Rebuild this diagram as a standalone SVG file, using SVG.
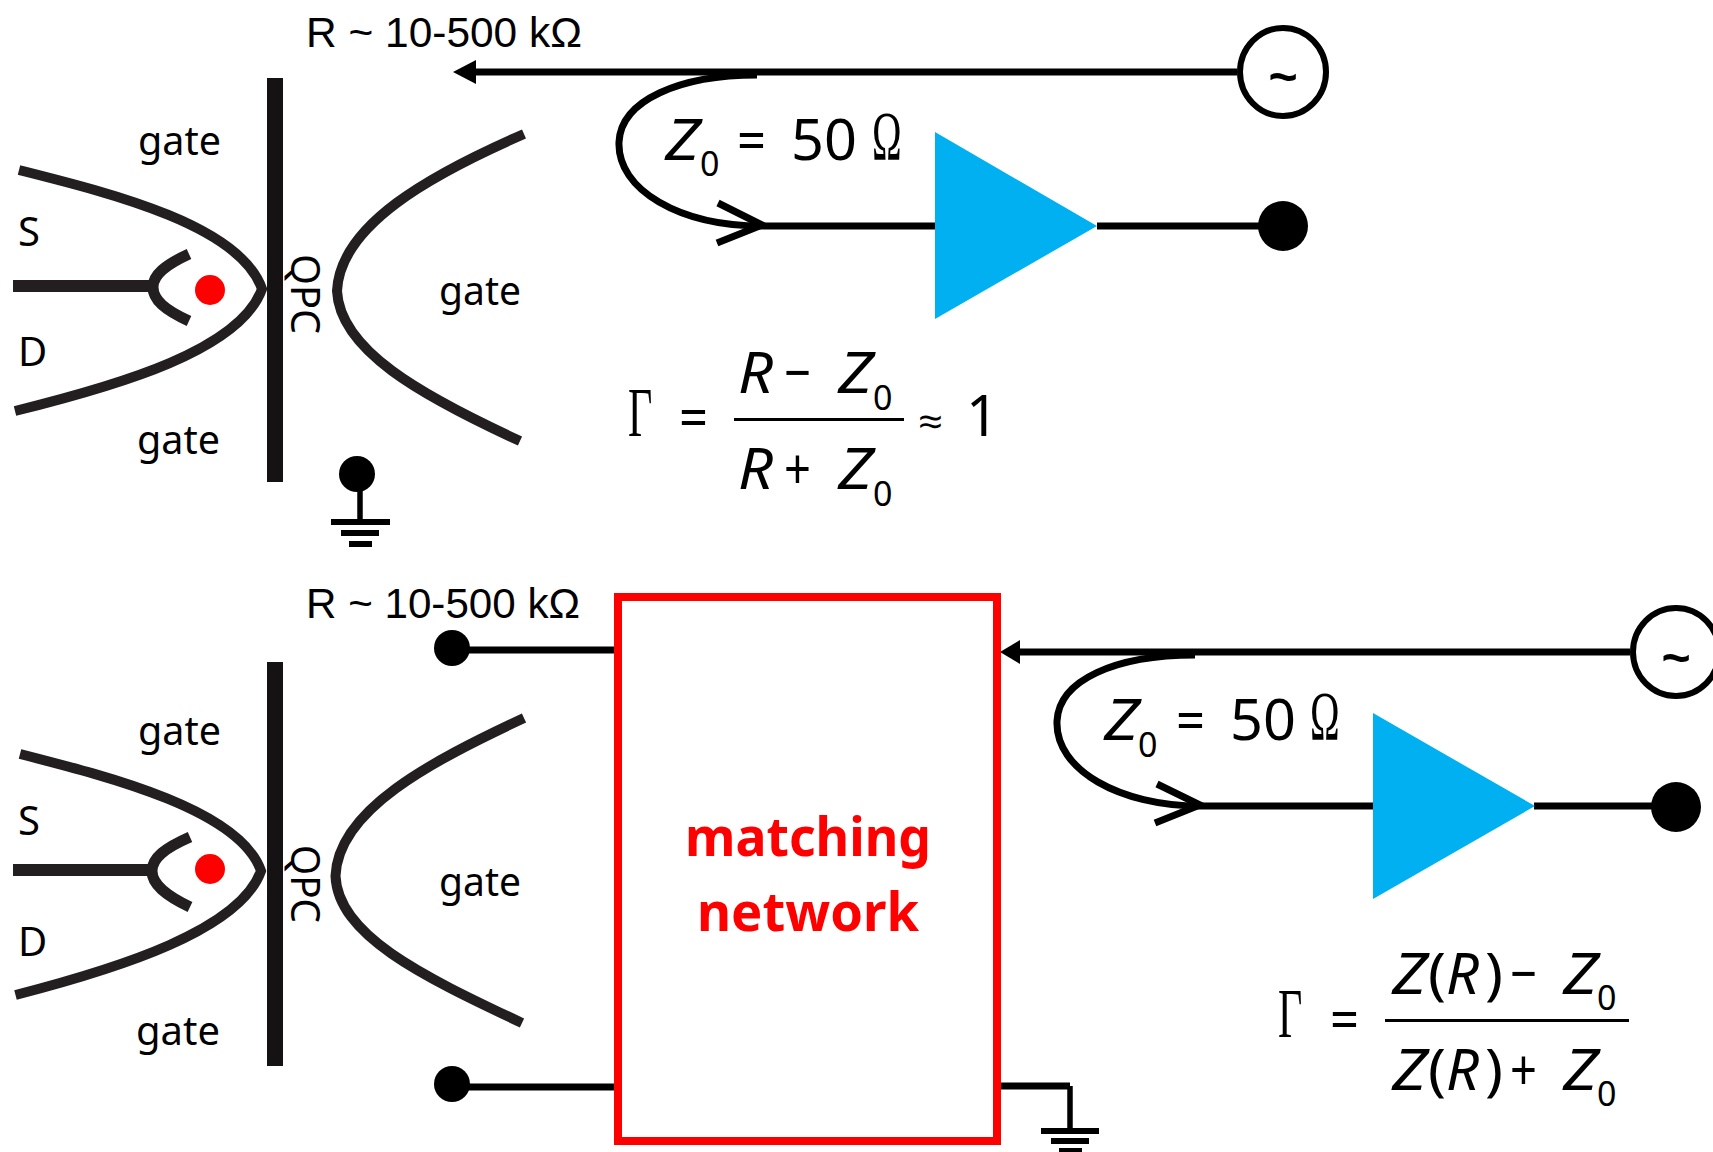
<svg xmlns="http://www.w3.org/2000/svg" width="1713" height="1152" viewBox="0 0 1713 1152">
<style>
.gatecurve{fill:none;stroke:#231f20;stroke-width:10}
.fork{fill:none;stroke:#231f20;stroke-width:11}
.lead{fill:none;stroke:#231f20;stroke-width:12}
.bar{fill:#141213}
.wire{fill:none;stroke:#000;stroke-width:7}
.thin{fill:none;stroke:#000;stroke-width:5.5}
.src{fill:#fff;stroke:#000;stroke-width:6}
.amp{fill:#00b0f0}
.t{font-family:"Noto Sans","Open Sans",sans-serif;fill:#000}
.lbl{font-size:40px}
.arial{font-family:"Liberation Sans",Arial,sans-serif;font-size:42px;fill:#000}
.m{font-family:"Noto Sans","Open Sans",sans-serif;font-size:57px;fill:#000}
.i{font-style:italic}
.sub{font-size:34px}
.s{font-family:"Liberation Serif","Times New Roman",serif;font-size:70px;fill:#000}
.tilde{font-family:"Liberation Sans",Arial,sans-serif;font-size:50px;font-weight:bold;fill:#000;text-anchor:middle}
.red{font-family:"Noto Sans","Open Sans",sans-serif;font-size:54px;font-weight:bold;fill:#f00;text-anchor:middle}
</style>
<defs>
<marker id="arrow" markerUnits="userSpaceOnUse" markerWidth="23" markerHeight="24" refX="0" refY="12" orient="auto"><polygon points="0,0 23,12 0,24" fill="#000"/></marker>
<marker id="arrow2" markerUnits="userSpaceOnUse" markerWidth="20" markerHeight="24" refX="0" refY="12" orient="auto"><polygon points="0,0 20,12 0,24" fill="#000"/></marker>
</defs>
<rect width="1713" height="1152" fill="#fff"/>

<g id="connectors">
<path class="wire" d="M1237,72 H476" marker-end="url(#arrow)"/>
<path class="wire" d="M757,75 C680,75 621,100 619,142 C617,190 680,226 762,226 H935"/>
<path class="wire" d="M718,203 L762,225 L717,243" transform="translate(0,0)"/>
<path class="wire" d="M1097,226 H1283"/>
<path class="wire" d="M1630,652 H1020" marker-end="url(#arrow2)"/>
<path class="wire" d="M1195,655 C1115,655 1059,680 1057,721 C1055,770 1120,806 1200,806 H1373"/>
<path class="wire" d="M1157,784 L1200,805 L1155,823"/>
<path class="wire" d="M1534,806 H1676"/>
<path class="wire" d="M452,650 H618"/>
<path class="wire" d="M452,1087 H618"/>
<path class="wire" d="M997,1086 H1070"/>
</g>

<g id="device-top">
<path class="gatecurve" d="M19,170 C110,193 240,225 262,289 C240,350 120,385 15,411"/>
<path class="gatecurve" d="M524,134 C430,175 340,225 337,291 C340,350 420,395 520,441"/>
<rect class="bar" x="267" y="78" width="16" height="404"/>
<path class="lead" d="M13,286 H153"/>
<path class="fork" d="M189,254 C165,265 153,275 153,287 C153,300 165,310 189,321"/>
<ellipse cx="210" cy="290" rx="15" ry="15" fill="#f00"/>
<text class="t lbl" x="138" y="155" textLength="83" lengthAdjust="spacingAndGlyphs">gate</text>
<text class="t lbl" x="137" y="454" textLength="83" lengthAdjust="spacingAndGlyphs">gate</text>
<text class="t lbl" x="439" y="305" textLength="82" lengthAdjust="spacingAndGlyphs">gate</text>
<text class="t lbl" x="18" y="246">S</text>
<text class="t lbl" x="18" y="366">D</text>
<text class="t lbl" transform="translate(291,254) rotate(90)" textLength="80" lengthAdjust="spacingAndGlyphs">QPC</text>
<text class="arial" x="306" y="47" textLength="276" lengthAdjust="spacingAndGlyphs">R ~ 10-500 kΩ</text>
</g>

<g id="ground-top">
<circle cx="357" cy="474" r="18" fill="#000"/>
<path class="thin" d="M360,490 V521"/>
<rect x="331" y="519" width="59" height="6"/>
<rect x="341" y="530" width="38" height="6"/>
<rect x="349" y="541" width="23" height="6"/>
</g>

<g id="source-top">
<ellipse class="src" cx="1283" cy="72" rx="43" ry="44"/>
<text class="tilde" x="1283" y="94">~</text>
</g>
<g id="amp-top">
<polygon class="amp" points="935,132 935,319 1097,226"/>
</g>
<circle id="output-top" cx="1283" cy="226" r="25" fill="#000"/>

<g id="z0-top">
<text class="m i" x="665" y="160" textLength="35" lengthAdjust="spacingAndGlyphs">Z</text>
<text class="m sub" x="700" y="176">0</text>
<text class="m" x="737" y="160" textLength="29" lengthAdjust="spacingAndGlyphs">=</text>
<text class="m" x="791" y="160" textLength="66" lengthAdjust="spacingAndGlyphs">50</text>
<text class="s" transform="translate(872,160) scale(0.57,1)">Ω</text>
</g>

<g id="gamma-top">
<text class="s" transform="translate(628,436) scale(0.6,1)">Γ</text>
<text class="m" x="679" y="437" textLength="29" lengthAdjust="spacingAndGlyphs">=</text>
<rect x="734" y="418" width="170" height="3"/>
<text class="m i" x="738" y="393" textLength="35" lengthAdjust="spacingAndGlyphs">R</text>
<text class="m" x="784" y="393" textLength="27" lengthAdjust="spacingAndGlyphs">−</text>
<text class="m i" x="838" y="393" textLength="35" lengthAdjust="spacingAndGlyphs">Z</text>
<text class="m sub" x="873" y="410">0</text>
<text class="m i" x="738" y="489" textLength="35" lengthAdjust="spacingAndGlyphs">R</text>
<text class="m" x="784" y="489" textLength="27" lengthAdjust="spacingAndGlyphs">+</text>
<text class="m i" x="838" y="489" textLength="35" lengthAdjust="spacingAndGlyphs">Z</text>
<text class="m sub" x="873" y="506">0</text>
<text class="m" x="918" y="436" font-size="40" style="font-size:40px" textLength="25" lengthAdjust="spacingAndGlyphs">≈</text>
<text class="m" x="966" y="436">1</text>
</g>

<g id="device-bottom">
<path class="gatecurve" d="M20,754 C110,777 240,810 261,871 C240,930 120,968 15.5,995"/>
<path class="gatecurve" d="M524,718 C430,762 338,810 335.5,876 C338,935 420,975 522,1023"/>
<rect class="bar" x="267" y="662" width="16" height="404"/>
<path class="lead" d="M13,870 H151"/>
<path class="fork" d="M190,837 C165,848 152,858 152,871 C152,884 165,895 190,907"/>
<ellipse cx="210" cy="869" rx="15" ry="15" fill="#f00"/>
<text class="t lbl" x="138" y="745" textLength="83" lengthAdjust="spacingAndGlyphs">gate</text>
<text class="t lbl" x="136" y="1045" textLength="84" lengthAdjust="spacingAndGlyphs">gate</text>
<text class="t lbl" x="439" y="896" textLength="82" lengthAdjust="spacingAndGlyphs">gate</text>
<text class="t lbl" x="18" y="835">S</text>
<text class="t lbl" x="18" y="956">D</text>
<text class="t lbl" transform="translate(291,845) rotate(90)" textLength="78" lengthAdjust="spacingAndGlyphs">QPC</text>
<text class="arial" x="306" y="618" textLength="274" lengthAdjust="spacingAndGlyphs">R ~ 10-500 kΩ</text>
</g>

<circle id="terminal-a" cx="452" cy="648" r="18" fill="#000"/>
<circle id="terminal-b" cx="452" cy="1084" r="18" fill="#000"/>

<g id="matching-network">
<rect x="618" y="597" width="379" height="544" fill="none" stroke="#f00" stroke-width="8"/>
<text class="red" x="808" y="856" textLength="246" lengthAdjust="spacingAndGlyphs">matching</text>
<text class="red" x="808" y="931" textLength="222" lengthAdjust="spacingAndGlyphs">network</text>
</g>

<g id="ground-bottom">
<path class="thin" d="M1070,1086 V1129"/>
<rect x="1041" y="1128" width="58" height="6"/>
<rect x="1051" y="1138" width="38" height="6"/>
<rect x="1059" y="1148" width="23" height="4"/>
</g>

<g id="source-bottom">
<ellipse class="src" cx="1676" cy="652" rx="43" ry="44"/>
<text class="tilde" x="1676" y="675">~</text>
</g>
<g id="amp-bottom">
<polygon class="amp" points="1373,713 1373,899 1535,806"/>
</g>
<circle id="output-bottom" cx="1676" cy="807" r="25" fill="#000"/>

<g id="z0-bottom">
<text class="m i" x="1104" y="740" textLength="35" lengthAdjust="spacingAndGlyphs">Z</text>
<text class="m sub" x="1138" y="757">0</text>
<text class="m" x="1176" y="740" textLength="29" lengthAdjust="spacingAndGlyphs">=</text>
<text class="m" x="1230" y="740" textLength="66" lengthAdjust="spacingAndGlyphs">50</text>
<text class="s" transform="translate(1310,740) scale(0.57,1)">Ω</text>
</g>

<g id="gamma-bottom">
<text class="s" transform="translate(1278,1037) scale(0.6,1)">Γ</text>
<text class="m" x="1330" y="1039" textLength="29" lengthAdjust="spacingAndGlyphs">=</text>
<rect x="1385" y="1019" width="244" height="3"/>
<text class="m i" x="1392" y="994" textLength="35" lengthAdjust="spacingAndGlyphs">Z</text>
<text class="m" x="1428" y="994" textLength="18" lengthAdjust="spacingAndGlyphs">(</text>
<text class="m i" x="1446" y="994" textLength="33" lengthAdjust="spacingAndGlyphs">R</text>
<text class="m" x="1485" y="994" textLength="18" lengthAdjust="spacingAndGlyphs">)</text>
<text class="m" x="1510" y="994" textLength="27" lengthAdjust="spacingAndGlyphs">−</text>
<text class="m i" x="1563" y="994" textLength="35" lengthAdjust="spacingAndGlyphs">Z</text>
<text class="m sub" x="1597" y="1010">0</text>
<text class="m i" x="1392" y="1090" textLength="35" lengthAdjust="spacingAndGlyphs">Z</text>
<text class="m" x="1428" y="1090" textLength="18" lengthAdjust="spacingAndGlyphs">(</text>
<text class="m i" x="1446" y="1090" textLength="33" lengthAdjust="spacingAndGlyphs">R</text>
<text class="m" x="1485" y="1090" textLength="18" lengthAdjust="spacingAndGlyphs">)</text>
<text class="m" x="1510" y="1090" textLength="27" lengthAdjust="spacingAndGlyphs">+</text>
<text class="m i" x="1563" y="1090" textLength="35" lengthAdjust="spacingAndGlyphs">Z</text>
<text class="m sub" x="1597" y="1106">0</text>
</g>
</svg>
